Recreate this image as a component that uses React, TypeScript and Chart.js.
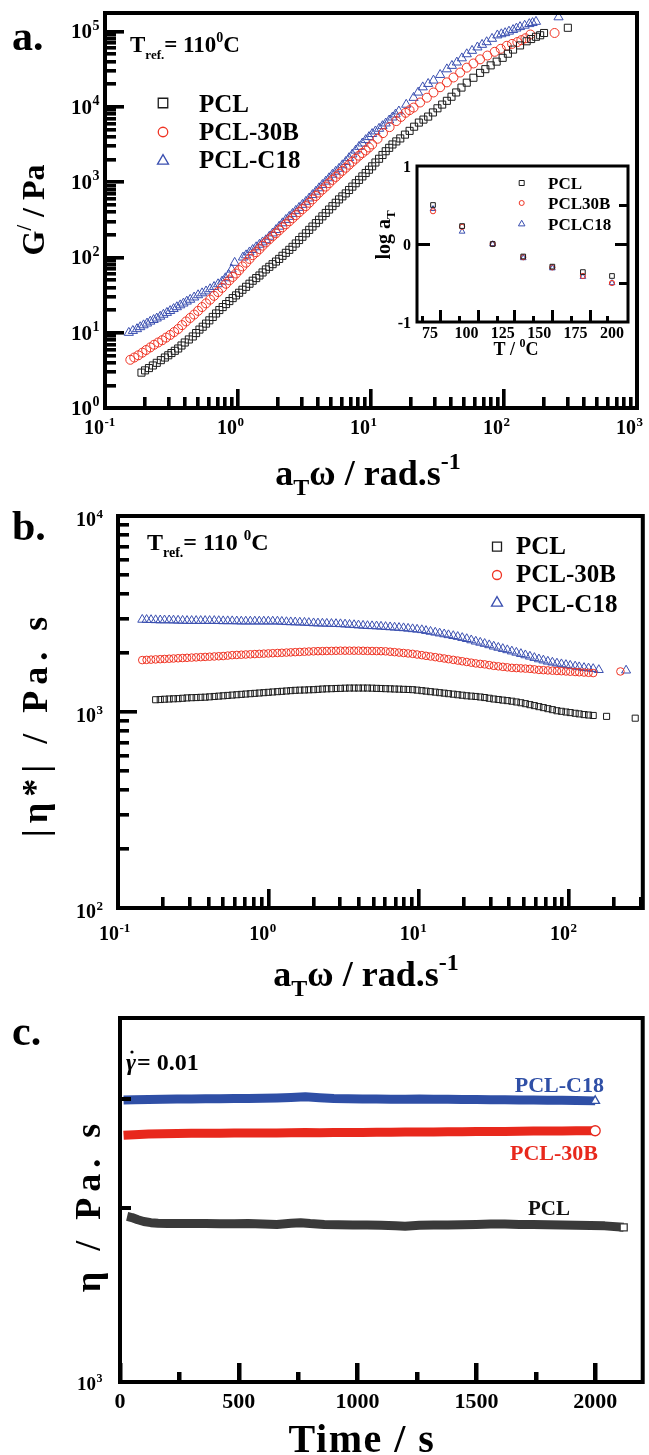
import React, { useEffect, useRef } from "react";
import { Chart, registerables } from "chart.js";
Chart.register(...registerables);

// ---------------- DATA ----------------
// Panel a: G' master curves (Tref = 110 C)
const omegaPCL_A = [0.188,0.200,0.214,0.229,0.245,0.263,0.282,0.299,0.316,0.335,0.355,0.376,0.398,0.427,0.457,0.484,0.513,0.543,0.575,0.609,0.646,0.684,0.724,0.767,0.813,0.861,0.912,0.966,1.02,1.08,1.15,1.22,1.29,1.37,1.45,1.53,1.62,1.72,1.82,1.93,2.04,2.16,2.29,2.43,2.57,2.72,2.88,3.05,3.24,3.43,3.63,3.85,4.07,4.31,4.57,4.84,5.13,5.43,5.75,6.09,6.46,6.84,7.24,7.67,8.13,8.61,9.12,9.66,10.2,10.8,11.5,12.2,12.9,13.7,14.5,15.5,16.6,18.0,19.5,21.1,22.9,24.8,26.9,29.2,31.6,34.3,37.2,40.3,43.7,47.9,52.5,58.9,66.1,72.4,79.4,88.1,97.7,107,117,132,148,160,174,187,200,302];
const gPCL_A = [2.95,3.16,3.39,3.67,3.98,4.32,4.68,5.01,5.37,5.75,6.17,6.76,7.41,8.13,8.91,9.89,11.0,12.0,13.2,14.6,16.2,18.0,20.0,21.9,24.0,26.3,28.8,31.3,33.9,37.2,40.7,44.7,49.0,53.1,57.5,63.1,69.2,75.0,81.3,88.1,95.5,105,115,126,138,153,170,188,209,232,257,285,316,351,389,432,479,531,589,646,708,785,871,966,1070,1190,1320,1460,1620,1820,2040,2290,2570,2850,3160,3470,3800,4270,4790,5440,6170,6760,7410,8410,9550,10700,12000,13600,15500,18000,20900,24300,28200,31600,35500,39800,44700,50700,57500,65300,74100,79400,85100,89100,95500,112000];
const omega30B_A = [0.155,0.166,0.178,0.191,0.204,0.219,0.234,0.251,0.269,0.288,0.309,0.331,0.355,0.380,0.407,0.437,0.468,0.501,0.537,0.575,0.617,0.661,0.708,0.759,0.813,0.861,0.912,0.966,1.02,1.08,1.15,1.22,1.29,1.37,1.45,1.53,1.62,1.72,1.82,1.93,2.04,2.16,2.29,2.43,2.57,2.72,2.88,3.05,3.24,3.43,3.63,3.85,4.07,4.31,4.57,4.84,5.13,5.43,5.75,6.09,6.46,6.84,7.24,7.67,8.13,8.61,9.12,9.66,10.2,11.2,12.3,13.8,15.5,16.8,18.2,19.5,20.9,23.4,26.3,29.5,33.1,37.2,41.7,46.8,52.5,58.9,66.1,75.0,85.1,94.5,105,115,126,135,145,158,240];
const g30B_A = [4.37,4.68,5.01,5.43,5.89,6.38,6.92,7.41,7.94,8.61,9.33,10.2,11.2,12.6,14.1,15.7,17.4,19.5,21.9,24.5,27.5,30.9,34.7,39.4,44.7,49.6,55.0,61.0,67.6,75.9,85.1,95.5,107,117,129,143,158,174,191,209,229,251,275,302,331,363,398,437,479,531,589,653,724,794,871,966,1070,1170,1290,1410,1550,1700,1860,2040,2240,2430,2630,2880,3160,3760,4470,5370,6460,7330,8320,9020,9770,11400,13200,15500,18200,21100,24500,28500,33100,37600,42700,47900,53700,58900,64600,68400,72400,76700,81300,91200,95500];
const omegaC18_A = [0.151,0.162,0.174,0.184,0.195,0.207,0.219,0.232,0.245,0.260,0.275,0.292,0.309,0.328,0.347,0.368,0.389,0.412,0.437,0.468,0.501,0.537,0.575,0.617,0.661,0.708,0.759,0.804,0.851,0.896,0.944,1.09,1.15,1.22,1.29,1.37,1.45,1.53,1.62,1.72,1.82,1.93,2.04,2.16,2.29,2.43,2.57,2.72,2.88,3.05,3.24,3.43,3.63,3.85,4.07,4.31,4.57,4.84,5.13,5.43,5.75,6.09,6.46,6.84,7.24,7.67,8.13,8.61,9.12,9.66,10.2,10.8,11.5,12.2,12.9,13.7,14.5,15.3,16.2,18.4,20.9,22.6,24.5,26.9,29.5,33.1,37.2,40.6,44.2,48.2,52.5,57.5,63.1,68.4,74.1,81.3,89.1,95.5,102,109,117,124,132,143,155,164,174,257];
const gC18_A = [10.0,10.6,11.2,11.9,12.6,13.3,14.1,14.8,15.5,16.4,17.4,18.4,19.5,20.7,21.9,23.2,24.5,26.0,27.5,29.5,31.6,33.5,35.5,38.0,40.7,44.2,47.9,53.1,58.9,69.2,85.1,100,107,117,126,137,148,159,170,189,209,232,257,285,316,347,380,417,457,501,550,610,676,750,832,921,1020,1130,1260,1380,1510,1680,1860,2090,2340,2630,2950,3270,3630,3980,4370,4730,5130,5560,6030,6610,7240,7940,8710,10700,13200,15500,18200,20200,22400,26600,31600,35100,38900,44200,50100,55600,61700,66800,72400,80300,89100,92300,95500,100000,105000,110000,115000,120000,126000,130000,135000,155000];

// Inset: shift factors
const insetT = [77, 97, 118, 139, 159, 180, 200];
const logaT_PCL = [0.50, 0.23, 0.0, -0.16, -0.29, -0.36, -0.41];
const logaT_30B = [0.42, 0.22, 0.0, -0.17, -0.30, -0.41, -0.50];
const logaT_C18 = [0.45, 0.16, 0.0, -0.18, -0.31, -0.42, -0.50];

// Panel b: complex viscosity (shared frequency grid of the sweeps)
const omegaGridB = [0.145,0.155,0.166,0.178,0.191,0.204,0.219,0.234,0.251,0.269,0.288,0.309,0.331,0.355,0.380,0.407,0.437,0.468,0.501,0.537,0.575,0.617,0.661,0.708,0.759,0.813,0.871,0.933,1.00,1.07,1.15,1.23,1.32,1.41,1.51,1.62,1.74,1.86,2.00,2.14,2.29,2.45,2.63,2.82,3.02,3.24,3.47,3.72,3.98,4.27,4.57,4.90,5.25,5.62,6.03,6.46,6.92,7.41,7.94,8.51,9.12,9.77,10.5,11.2,12.0,12.9,13.8,14.8,15.8,17.0,18.2,19.5,20.9,22.4,24.0,25.7,27.5,29.5,31.6,33.9,36.3,38.9,41.7,44.7,47.9,51.3,55.0,58.9,63.1,67.6,72.4,77.6,83.2,89.1,95.5,102,110,117,126,135,145,158];
const omegaC18_B = [...omegaGridB, 240];
const etaC18_B = [2960,2955,2950,2945,2940,2940,2940,2935,2930,2925,2920,2920,2920,2920,2920,2920,2920,2915,2910,2910,2910,2905,2900,2900,2900,2900,2900,2900,2900,2900,2900,2890,2880,2875,2870,2865,2860,2850,2840,2835,2830,2825,2820,2815,2810,2800,2790,2780,2770,2760,2750,2745,2740,2730,2720,2710,2700,2690,2680,2665,2650,2635,2620,2595,2570,2545,2520,2495,2470,2445,2420,2390,2360,2325,2290,2260,2230,2195,2160,2130,2100,2070,2040,2010,1980,1950,1920,1890,1860,1835,1810,1790,1770,1755,1740,1725,1710,1695,1680,1670,1660,1640,1630];
const omega30B_B = [...omegaGridB.slice(0, 101), 220];
const eta30B_B = [1840,1845,1850,1855,1860,1865,1870,1875,1880,1885,1890,1895,1900,1905,1910,1915,1920,1925,1930,1940,1950,1955,1960,1965,1970,1975,1980,1985,1990,1995,2000,2005,2010,2015,2020,2025,2030,2035,2040,2043,2045,2048,2050,2053,2055,2055,2055,2055,2055,2053,2050,2048,2045,2043,2040,2030,2020,2010,2000,1990,1980,1965,1950,1935,1920,1905,1890,1875,1860,1845,1830,1815,1800,1785,1770,1760,1750,1735,1720,1710,1700,1690,1680,1675,1670,1665,1660,1650,1640,1635,1630,1625,1620,1615,1610,1605,1600,1595,1590,1585,1580,1610];
const omegaPCL_B = [...omegaGridB.slice(3, 101), 178, 276];
const etaPCL_B = [1155,1158,1162,1165,1168,1170,1175,1180,1183,1185,1188,1190,1195,1200,1205,1210,1215,1220,1225,1230,1235,1240,1245,1250,1255,1260,1265,1270,1275,1280,1285,1290,1293,1295,1298,1300,1305,1310,1313,1315,1318,1320,1323,1325,1325,1325,1325,1325,1323,1320,1318,1315,1313,1310,1308,1305,1303,1300,1293,1285,1278,1270,1263,1255,1248,1240,1233,1225,1218,1210,1205,1200,1193,1185,1175,1165,1158,1150,1143,1135,1125,1115,1103,1090,1078,1065,1053,1040,1028,1015,1008,1000,993,985,978,970,965,960,950,930];

// Panel c: steady shear viscosity vs time
const timeC18 = [15,60,120,180,240,300,360,420,480,540,600,660,720,780,840,900,960,1020,1080,1140,1200,1260,1320,1380,1440,1500,1560,1620,1680,1740,1800,1860,1920,2000];
const etaC18_C = [5950,5960,5970,5980,5990,5990,6000,6000,6010,6010,6020,6030,6050,6080,6040,6010,6000,5990,5990,5980,5980,5990,5980,5980,5970,5970,5960,5960,5950,5950,5940,5940,5930,5920];
const time30B = [15,60,120,180,240,300,360,420,480,540,600,660,720,780,840,900,960,1020,1080,1140,1200,1260,1320,1380,1440,1500,1560,1620,1680,1740,1800,1860,1920,2000];
const eta30B_C = [4760,4780,4800,4810,4815,4820,4820,4825,4830,4830,4835,4835,4840,4845,4840,4845,4850,4850,4855,4855,4860,4860,4865,4870,4870,4875,4880,4880,4885,4890,4890,4895,4900,4900];
const timePCL = [30,50,75,100,130,160,200,250,300,360,420,480,540,600,660,720,760,800,860,920,980,1040,1100,1160,1200,1260,1320,1380,1440,1500,1560,1620,1680,1740,1800,1860,1920,1980,2040,2120];
const etaPCL_C = [2850,2830,2790,2760,2740,2730,2725,2725,2725,2725,2720,2720,2725,2715,2710,2730,2740,2725,2710,2705,2700,2700,2695,2685,2680,2695,2700,2700,2705,2710,2715,2715,2710,2710,2705,2700,2695,2690,2685,2660];

// Tick labels
const aXTickExps = [-1, 0, 1, 2, 3];
const aYTickExps = [0, 1, 2, 3, 4, 5];
const bXTickExps = [-1, 0, 1, 2];
const bYTickExps = [2, 3, 4];
const cXTicks = [0, 500, 1000, 1500, 2000];
const cXMinorTicks = [250, 750, 1250, 1750];
const cYTicks = [1000];
const cYMinorTicks = [3000, 6000];
const insetXTicks = [75, 100, 125, 150, 175, 200];
const insetMajorMarks = [82, 108, 133, 159, 185];
const insetMinorMarks = [70, 95, 121, 146, 172, 197];
const insetYTicks = [1, 0, -1];
const legendNames = ["PCL", "PCL-30B", "PCL-C18"];
const insetLegendNames = ["PCL", "PCL30B", "PCLC18"];

// ---------------- STYLE ----------------
const FONT = "'Liberation Serif','Times New Roman',Times,serif";
const COL_PCL = "#1c1c1c";
const COL_30B = "#ef3424";
const COL_C18 = "#3a4fb0";
const BAND_PCL = "#3a3a3a";
const BAND_30B = "#e8281c";
const BAND_C18 = "#2f4fa6";
const TICK_W = 3.6;
const fnt = (s: number, italic = false) => `${italic ? "italic " : ""}bold ${s}px ${FONT}`;

type Seg = { t: string; s: number; dy?: number; c?: string; i?: boolean };

function segWidth(ctx: any, segs: Seg[], ls = 0) {
  let w = 0;
  ctx.save();
  ctx.letterSpacing = ls + "px";
  for (const g of segs) {
    ctx.font = fnt(g.s, g.i);
    w += ctx.measureText(g.t).width;
  }
  ctx.restore();
  return w;
}
function rich(ctx: any, segs: Seg[], x: number, y: number, align = "left", color = "#000", ls = 0) {
  const w = segWidth(ctx, segs, ls);
  let cx = align === "left" ? x : align === "center" ? x - w / 2 : x - w;
  ctx.save();
  ctx.letterSpacing = ls + "px";
  ctx.textAlign = "left";
  ctx.textBaseline = "alphabetic";
  for (const g of segs) {
    ctx.font = fnt(g.s, g.i);
    ctx.fillStyle = g.c || color;
    ctx.fillText(g.t, cx, y + (g.dy || 0));
    cx += ctx.measureText(g.t).width;
  }
  ctx.restore();
}
function richRot(ctx: any, segs: Seg[], x: number, y: number, ls = 0) {
  ctx.save();
  ctx.translate(x, y);
  ctx.rotate(-Math.PI / 2);
  rich(ctx, segs, 0, 0, "center", "#000", ls);
  ctx.restore();
}
function powLabel(ctx: any, e: number, xEnd: number, base: number, size: number, sup: number) {
  ctx.save();
  ctx.fillStyle = "#000";
  ctx.textBaseline = "alphabetic";
  ctx.font = fnt(size);
  ctx.textAlign = "right";
  ctx.fillText("10", xEnd, base);
  ctx.font = fnt(sup);
  ctx.textAlign = "left";
  ctx.fillText(String(e), xEnd + 0.5, base - size * 0.42);
  ctx.restore();
}
function marker(ctx: any, kind: string, x: number, y: number, size: number, color: string, lw = 1.2) {
  ctx.save();
  ctx.beginPath();
  if (kind === "rect") ctx.rect(x - size / 2, y - size / 2, size, size);
  else if (kind === "circle") ctx.arc(x, y, size / 2, 0, Math.PI * 2);
  else {
    const R = size / Math.sqrt(3);
    ctx.moveTo(x, y - R);
    ctx.lineTo(x + size / 2, y + R / 2);
    ctx.lineTo(x - size / 2, y + R / 2);
    ctx.closePath();
  }
  ctx.strokeStyle = color;
  ctx.lineWidth = lw;
  ctx.stroke();
  ctx.restore();
}
// tick marks drawn as filled bars pointing into the plot
function vTick(ctx: any, x: number, yBase: number, len: number, w: number) {
  ctx.fillRect(Math.round(x - w / 2), yBase - len, w, len);
}
function hTick(ctx: any, xBase: number, y: number, len: number, w: number) {
  ctx.fillRect(len >= 0 ? xBase : xBase + len, Math.round(y - w / 2), Math.abs(len), w);
}
function logTicks(min: number, max: number) {
  const out: { v: number; major: boolean }[] = [];
  const e0 = Math.floor(Math.log10(min));
  const e1 = Math.ceil(Math.log10(max));
  for (let e = e0; e <= e1; e++)
    for (let m = 1; m <= 9; m++) {
      const v = m * Math.pow(10, e);
      if (v > min * 1.0001 && v < max * 0.9999) out.push({ v, major: m === 1 });
    }
  return out;
}

const pts = (xs: number[], ys: number[]) => xs.map((x, i) => ({ x, y: ys[i] }));
const scatterDs = (label: string, xs: number[], ys: number[], style: string, r: number, color: string, lw = 1) => ({
  label,
  data: pts(xs, ys),
  pointStyle: style,
  pointRadius: r,
  pointHoverRadius: r,
  pointBorderColor: color,
  pointBackgroundColor: "rgba(0,0,0,0)",
  pointBorderWidth: lw,
  borderColor: color,
  backgroundColor: "rgba(0,0,0,0)",
  showLine: false,
  clip: false,
});
const baseOpts = (pad: any, x: any, y: any) => ({
  animation: false,
  responsive: false,
  maintainAspectRatio: false,
  events: [],
  layout: { padding: pad },
  plugins: { legend: { display: false }, tooltip: { enabled: false }, title: { display: false } },
  scales: { x: { ...x, display: false }, y: { ...y, display: false } },
});

// ---------------- PANEL A ----------------
const A_X = { type: "logarithmic", min: 0.1, max: 1000 };
const A_Y = { type: "logarithmic", min: 1, max: 176000 };
const panelAPlugin = {
  id: "panelA",
  afterDraw(chart: any) {
    const ctx = chart.ctx;
    const a = chart.chartArea;
    const xs = chart.scales.x;
    const ys = chart.scales.y;
    ctx.save();
    ctx.fillStyle = "#000";
    for (const t of logTicks(A_X.min, A_X.max)) vTick(ctx, xs.getPixelForValue(t.v), a.bottom, t.major ? 19 : 11, TICK_W);
    for (const t of logTicks(A_Y.min, A_Y.max)) hTick(ctx, a.left, ys.getPixelForValue(t.v), t.major ? 19 : 11, TICK_W);
    ctx.strokeStyle = "#000";
    ctx.lineWidth = 4;
    ctx.strokeRect(a.left, a.top, a.right - a.left, a.bottom - a.top);
    for (const e of aYTickExps) powLabel(ctx, e, 92, ys.getPixelForValue(Math.pow(10, e)) + 7, 21, 14);
    for (const e of aXTickExps) powLabel(ctx, e, xs.getPixelForValue(Math.pow(10, e)) - 1, 434, 20, 13);
    rich(ctx, [{ t: "a.", s: 42 }], 12, 50);
    rich(ctx, [{ t: "a", s: 36 }, { t: "T", s: 24, dy: 10 }, { t: "ω / rad.s", s: 36 }, { t: "-1", s: 24, dy: -16 }], 368, 485, "center");
    richRot(ctx, [{ t: "G", s: 32 }, { t: "/", s: 20, dy: -13 }, { t: " / Pa", s: 32 }], 44, 210);
    rich(ctx, [{ t: "T", s: 23 }, { t: "ref.", s: 13, dy: 7 }, { t: "= 110", s: 23 }, { t: "0", s: 14, dy: -10 }, { t: "C", s: 23 }], 130, 52);
    const kinds = ["rect", "circle", "triangle"];
    const cols = [COL_PCL, COL_30B, COL_C18];
    const my = [103, 132, 161];
    const ty = [112, 140, 168];
    for (let i = 0; i < 3; i++) {
      marker(ctx, kinds[i], 163, my[i], i === 2 ? 11 : 9.5, cols[i], 1.3);
      rich(ctx, [{ t: legendNames[i], s: 25 }], 199, ty[i]);
    }
    ctx.restore();
  },
};
const cfgA = () => ({
  type: "scatter",
  data: {
    datasets: [
      scatterDs("PCL", omegaPCL_A, gPCL_A, "rect", 5, COL_PCL),
      scatterDs("PCL-30B", omega30B_A, g30B_A, "circle", 4.5, COL_30B),
      scatterDs("PCL-C18", omegaC18_A, gC18_A, "triangle", 5.3, COL_C18),
    ],
  },
  options: baseOpts({ left: 105, right: 12, top: 13, bottom: 500 - 408 }, A_X, A_Y),
  plugins: [panelAPlugin],
});

// ---------------- INSET ----------------
const IN_OX = 360;
const IN_OY = 155;
const IN_X = { type: "linear", min: 66, max: 211 };
const IN_Y = { type: "linear", min: -1, max: 1 };
const insetPlugin = {
  id: "inset",
  beforeDraw(chart: any) {
    const ctx = chart.ctx;
    const a = chart.chartArea;
    ctx.save();
    ctx.fillStyle = "#fff";
    ctx.fillRect(a.left, a.top, a.right - a.left, a.bottom - a.top);
    ctx.restore();
  },
  afterDraw(chart: any) {
    const ctx = chart.ctx;
    const a = chart.chartArea;
    const xs = chart.scales.x;
    const ys = chart.scales.y;
    ctx.save();
    ctx.fillStyle = "#000";
    for (const v of insetMajorMarks) vTick(ctx, xs.getPixelForValue(v), a.bottom, 12, 3);
    for (const v of insetMinorMarks) vTick(ctx, xs.getPixelForValue(v), a.bottom, 6, 3);
    const y0 = ys.getPixelForValue(0);
    hTick(ctx, a.left, y0, 13, 3);
    hTick(ctx, a.right, y0, -13, 3);
    for (const v of [0.5, -0.5]) hTick(ctx, a.right, ys.getPixelForValue(v), -9, 3);
    ctx.strokeStyle = "#000";
    ctx.lineWidth = 3;
    ctx.strokeRect(a.left, a.top, a.right - a.left, a.bottom - a.top);
    for (const v of insetYTicks) rich(ctx, [{ t: String(v), s: 16 }], 411 - IN_OX, ys.getPixelForValue(v) + 6, "right");
    for (const v of insetXTicks) rich(ctx, [{ t: String(v), s: 16 }], xs.getPixelForValue(v), 338 - IN_OY, "center");
    rich(ctx, [{ t: "T / ", s: 18 }, { t: "0", s: 12, dy: -8 }, { t: "C", s: 18 }], 516 - IN_OX, 355 - IN_OY, "center");
    richRot(ctx, [{ t: "log a", s: 20 }, { t: "T", s: 13, dy: 5 }], 390 - IN_OX, 235 - IN_OY);
    const kinds = ["rect", "circle", "triangle"];
    const cols = [COL_PCL, COL_30B, COL_C18];
    const my = [183, 203, 224];
    const ty = [188.5, 209, 230];
    for (let i = 0; i < 3; i++) {
      marker(ctx, kinds[i], 521.7 - IN_OX, my[i] - IN_OY, i === 2 ? 6.5 : 5, cols[i], 1);
      rich(ctx, [{ t: insetLegendNames[i], s: 17 }], 548 - IN_OX, ty[i] - IN_OY);
    }
    ctx.restore();
  },
};
const cfgInset = () => ({
  type: "scatter",
  data: {
    datasets: [
      scatterDs("PCL", insetT, logaT_PCL, "rect", 3.3, COL_PCL, 1),
      scatterDs("PCL30B", insetT, logaT_30B, "circle", 2.6, COL_30B, 1),
      scatterDs("PCLC18", insetT, logaT_C18, "triangle", 3.3, COL_C18, 1),
    ],
  },
  options: baseOpts({ left: 417 - IN_OX, right: 285 - (628 - IN_OX), top: 166 - IN_OY, bottom: 210 - (322 - IN_OY) }, IN_X, IN_Y),
  plugins: [insetPlugin],
});

// ---------------- PANEL B ----------------
const B_OY = 495;
const B_X = { type: "logarithmic", min: 0.1, max: 310 };
const B_Y = { type: "logarithmic", min: 100, max: 10000 };
const panelBPlugin = {
  id: "panelB",
  afterDraw(chart: any) {
    const ctx = chart.ctx;
    const a = chart.chartArea;
    const xs = chart.scales.x;
    const ys = chart.scales.y;
    ctx.save();
    ctx.fillStyle = "#000";
    for (const t of logTicks(B_X.min, B_X.max)) vTick(ctx, xs.getPixelForValue(t.v), a.bottom, t.major ? 19 : 11, TICK_W);
    for (const t of logTicks(B_Y.min, B_Y.max)) hTick(ctx, a.left, ys.getPixelForValue(t.v), t.major ? 19 : 11, TICK_W);
    ctx.strokeStyle = "#000";
    ctx.lineWidth = 4;
    ctx.strokeRect(a.left, a.top, a.right - a.left, a.bottom - a.top);
    for (const e of bYTickExps) powLabel(ctx, e, 96, ys.getPixelForValue(Math.pow(10, e)) + 10, 20, 13);
    for (const e of bXTickExps) powLabel(ctx, e, xs.getPixelForValue(Math.pow(10, e)) + 1, 940 - B_OY, 20, 13);
    rich(ctx, [{ t: "b.", s: 42 }], 12, 540 - B_OY);
    rich(ctx, [{ t: "a", s: 36 }, { t: "T", s: 24, dy: 10 }, { t: "ω / rad.s", s: 36 }, { t: "-1", s: 24, dy: -16 }], 366, 986 - B_OY, "center");
    richRot(ctx, [{ t: "|η*| / Pa. s", s: 36 }], 47, 724 - B_OY, 6);
    rich(ctx, [{ t: "T", s: 24 }, { t: "ref.", s: 14, dy: 7 }, { t: "= 110 ", s: 24 }, { t: "0", s: 15, dy: -10 }, { t: "C", s: 24 }], 147, 550 - B_OY);
    const kinds = ["rect", "circle", "triangle"];
    const cols = [COL_PCL, COL_30B, COL_C18];
    const my = [546.7, 575, 603];
    const ty = [553.5, 582, 612];
    for (let i = 0; i < 3; i++) {
      marker(ctx, kinds[i], 497, my[i] - B_OY, i === 2 ? 11 : 9, cols[i], 1.3);
      rich(ctx, [{ t: legendNames[i], s: 25 }], 516, ty[i] - B_OY);
    }
    ctx.restore();
  },
};
const cfgB = () => ({
  type: "scatter",
  data: {
    datasets: [
      scatterDs("PCL", omegaPCL_B, etaPCL_B, "rect", 4.3, COL_PCL),
      scatterDs("PCL-30B", omega30B_B, eta30B_B, "circle", 3.8, COL_30B),
      scatterDs("PCL-C18", omegaC18_B, etaC18_B, "triangle", 5.2, COL_C18),
    ],
  },
  options: baseOpts({ left: 118, right: 4, top: 516 - B_OY, bottom: 505 - (908 - B_OY) }, B_X, B_Y),
  plugins: [panelBPlugin],
});

// ---------------- PANEL C ----------------
const C_OY = 1000;
const C_X = { type: "linear", min: 0, max: 2200 };
const C_Y = { type: "logarithmic", min: 1000, max: 10000 };
const bandDs = (label: string, xs: number[], ys: number[], color: string, style: string) => ({
  label,
  data: pts(xs, ys),
  showLine: true,
  borderColor: color,
  borderWidth: 9,
  borderCapStyle: "butt",
  borderJoinStyle: "round",
  tension: 0,
  pointStyle: style,
  pointRadius: (c: any) => (c.dataIndex === xs.length - 1 ? 5 : 0),
  pointBackgroundColor: "#fff",
  pointBorderColor: color,
  pointBorderWidth: 1.3,
  backgroundColor: "#fff",
  clip: false,
});
const panelCPlugin = {
  id: "panelC",
  afterDraw(chart: any) {
    const ctx = chart.ctx;
    const a = chart.chartArea;
    const xs = chart.scales.x;
    const ys = chart.scales.y;
    ctx.save();
    ctx.fillStyle = "#000";
    for (const v of cXTicks) vTick(ctx, xs.getPixelForValue(v), a.bottom, 19, 4.5);
    for (const v of cXMinorTicks) vTick(ctx, xs.getPixelForValue(v), a.bottom, 10, 4.5);
    for (const v of cYMinorTicks) hTick(ctx, a.left, ys.getPixelForValue(v), 11, 4);
    ctx.strokeStyle = "#000";
    ctx.lineWidth = 4;
    ctx.strokeRect(a.left, a.top, a.right - a.left, a.bottom - a.top);
    for (const v of cXTicks) rich(ctx, [{ t: String(v), s: 22 }], xs.getPixelForValue(v), 1408 - C_OY, "center");
    for (const v of cYTicks) powLabel(ctx, Math.round(Math.log10(v)), 96, ys.getPixelForValue(v) + 8, 19, 12);
    rich(ctx, [{ t: "c.", s: 42 }], 12, 1045 - C_OY);
    rich(ctx, [{ t: "Time / s", s: 40 }], 362, 1452 - C_OY, "center", "#000", 1.5);
    richRot(ctx, [{ t: "η / Pa. s", s: 36 }], 100, 1205 - C_OY, 6);
    // shear-rate annotation
    rich(ctx, [{ t: "γ", s: 24, i: true }], 126, 1070 - C_OY);
    ctx.beginPath();
    ctx.fillStyle = "#000";
    ctx.arc(132, 1052 - C_OY, 1.6, 0, Math.PI * 2);
    ctx.fill();
    rich(ctx, [{ t: "= 0.01", s: 24 }], 137, 1070 - C_OY);
    rich(ctx, [{ t: legendNames[2], s: 22 }], 604, 1092 - C_OY, "right", BAND_C18);
    rich(ctx, [{ t: legendNames[1], s: 22 }], 598, 1160 - C_OY, "right", BAND_30B);
    rich(ctx, [{ t: legendNames[0], s: 21 }], 528, 1215 - C_OY, "left", "#111");
    ctx.restore();
  },
};
const cfgC = () => ({
  type: "scatter",
  data: {
    datasets: [
      bandDs("PCL", timePCL, etaPCL_C, BAND_PCL, "rect"),
      bandDs("PCL-30B", time30B, eta30B_C, BAND_30B, "circle"),
      bandDs("PCL-C18", timeC18, etaC18_C, BAND_C18, "triangle"),
    ],
  },
  options: baseOpts({ left: 120, right: 2, top: 1018 - C_OY, bottom: 455 - (1382 - C_OY) }, C_X, C_Y),
  plugins: [panelCPlugin],
});

// ---------------- COMPONENT ----------------
function useChart(make: () => any) {
  const ref = useRef<HTMLCanvasElement>(null);
  useEffect(() => {
    const chart = new Chart(ref.current as HTMLCanvasElement, make());
    return () => chart.destroy();
  }, []);
  return ref;
}

export default function App() {
  const refA = useChart(cfgA);
  const refIn = useChart(cfgInset);
  const refB = useChart(cfgB);
  const refC = useChart(cfgC);
  const cs = (l: number, t: number, w: number, h: number) => ({ position: "absolute" as const, left: l, top: t, width: w, height: h });
  return (
    <div style={{ position: "absolute", left: 0, top: 0, width: 649, height: 1455, background: "#fff", overflow: "hidden" }}>
      <canvas ref={refA} width={649} height={500} style={cs(0, 0, 649, 500)} />
      <canvas ref={refB} width={649} height={505} style={cs(0, 495, 649, 505)} />
      <canvas ref={refC} width={649} height={455} style={cs(0, 1000, 649, 455)} />
      <canvas ref={refIn} width={285} height={210} style={cs(360, 155, 285, 210)} />
    </div>
  );
}
